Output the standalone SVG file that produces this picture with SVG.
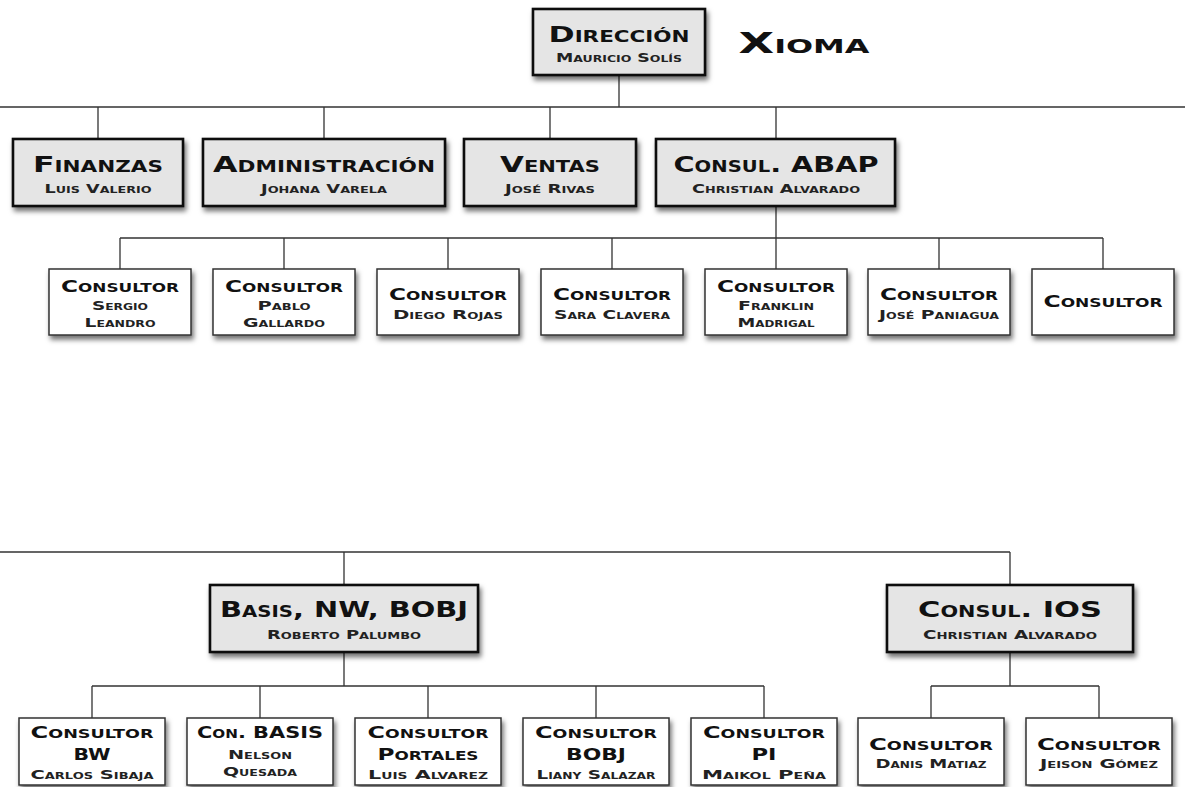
<svg xmlns="http://www.w3.org/2000/svg" width="1185" height="787" viewBox="0 0 1185 787">
<defs>
<filter id="sh" x="-10%" y="-20%" width="125%" height="150%">
<feDropShadow dx="2" dy="4" stdDeviation="2.5" flood-color="#000" flood-opacity="0.55"/>
</filter>
<style>
.g{fill:#e5e5e5;stroke:#111;stroke-width:2.6;filter:url(#sh)}
.w{fill:#fff;stroke:#333;stroke-width:1.5;filter:url(#sh)}
.ln{stroke:#333;stroke-width:1.3;fill:none}
text{font-family:"DejaVu Sans","Liberation Sans",sans-serif;font-weight:bold;font-variant:small-caps;text-anchor:middle;fill:#111}
.t{font-size:22px}
.s{font-size:12.5px;fill:#222}
.c{font-size:16.5px}
.n{font-size:12px;fill:#222}
.x{font-size:29px}
</style>
</defs>
<rect width="1185" height="787" fill="#fff"/>
<g id="connectors">
<path class="ln" d="M619 75V107M0 107H1185M98 107V139M324 107V139M550 107V139M776 107V139"/>
<path class="ln" d="M776 206V238M120 238H1103M120 238V269M284 238V269M448 238V269M612 238V269M776 238V269M939 238V269M1103 238V269"/>
<path class="ln" d="M0 552H1010M344 552V585M1010 552V585"/>
<path class="ln" d="M344 652V686M92 686H764M92 686V718M260 686V718M428 686V718M596 686V718M764 686V718"/>
<path class="ln" d="M1010 652V686M931 686H1099M931 686V718M1099 686V718"/>
</g>
<g id="title"><text class="x" x="804" y="53" textLength="131" lengthAdjust="spacingAndGlyphs">Xioma</text></g>
<g id="direccion">
<rect class="g" x="533" y="9" width="172" height="66"/>
<text class="t" x="619" y="42" textLength="141" lengthAdjust="spacingAndGlyphs">Dirección</text>
<text class="s" x="619" y="62" textLength="126" lengthAdjust="spacingAndGlyphs">Mauricio Solís</text>
</g>
<g id="finanzas">
<rect class="g" x="13" y="139" width="170" height="67"/>
<text class="t" x="98" y="172" textLength="130" lengthAdjust="spacingAndGlyphs">Finanzas</text>
<text class="s" x="98" y="193" textLength="107" lengthAdjust="spacingAndGlyphs">Luis Valerio</text>
</g>
<g id="administracion">
<rect class="g" x="203" y="139" width="242" height="67"/>
<text class="t" x="324" y="172" textLength="222" lengthAdjust="spacingAndGlyphs">Administración</text>
<text class="s" x="324" y="193" textLength="126" lengthAdjust="spacingAndGlyphs">Johana Varela</text>
</g>
<g id="ventas">
<rect class="g" x="464" y="139" width="172" height="67"/>
<text class="t" x="550" y="172" textLength="100" lengthAdjust="spacingAndGlyphs">Ventas</text>
<text class="s" x="550" y="193" textLength="90" lengthAdjust="spacingAndGlyphs">José Rivas</text>
</g>
<g id="consul-abap">
<rect class="g" x="656" y="139" width="239" height="67"/>
<text class="t" x="776" y="172" textLength="205" lengthAdjust="spacingAndGlyphs">Consul. ABAP</text>
<text class="s" x="776" y="193" textLength="168" lengthAdjust="spacingAndGlyphs">Christian Alvarado</text>
</g>
<g id="c-sergio">
<rect class="w" x="49" y="269" width="142" height="66"/>
<text class="c" x="120" y="292" textLength="118" lengthAdjust="spacingAndGlyphs">Consultor</text>
<text class="n" x="120" y="310" textLength="56" lengthAdjust="spacingAndGlyphs">Sergio</text>
<text class="n" x="120" y="327" textLength="71" lengthAdjust="spacingAndGlyphs">Leandro</text>
</g>
<g id="c-pablo">
<rect class="w" x="213" y="269" width="142" height="66"/>
<text class="c" x="284" y="292" textLength="118" lengthAdjust="spacingAndGlyphs">Consultor</text>
<text class="n" x="284" y="310" textLength="53" lengthAdjust="spacingAndGlyphs">Pablo</text>
<text class="n" x="284" y="327" textLength="82" lengthAdjust="spacingAndGlyphs">Gallardo</text>
</g>
<g id="c-diego">
<rect class="w" x="377" y="269" width="142" height="66"/>
<text class="c" x="448" y="300" textLength="118" lengthAdjust="spacingAndGlyphs">Consultor</text>
<text class="n" x="448" y="319" textLength="110" lengthAdjust="spacingAndGlyphs">Diego Rojas</text>
</g>
<g id="c-sara">
<rect class="w" x="541" y="269" width="142" height="66"/>
<text class="c" x="612" y="300" textLength="118" lengthAdjust="spacingAndGlyphs">Consultor</text>
<text class="n" x="612" y="319" textLength="116" lengthAdjust="spacingAndGlyphs">Sara Clavera</text>
</g>
<g id="c-franklin">
<rect class="w" x="705" y="269" width="142" height="66"/>
<text class="c" x="776" y="292" textLength="118" lengthAdjust="spacingAndGlyphs">Consultor</text>
<text class="n" x="776" y="310" textLength="76" lengthAdjust="spacingAndGlyphs">Franklin</text>
<text class="n" x="776" y="327" textLength="77" lengthAdjust="spacingAndGlyphs">Madrigal</text>
</g>
<g id="c-jose">
<rect class="w" x="868" y="269" width="142" height="66"/>
<text class="c" x="939" y="300" textLength="118" lengthAdjust="spacingAndGlyphs">Consultor</text>
<text class="n" x="939" y="319" textLength="120" lengthAdjust="spacingAndGlyphs">José Paniagua</text>
</g>
<g id="c-vacante">
<rect class="w" x="1032" y="269" width="142" height="66"/>
<text class="c" x="1103" y="307" textLength="119" lengthAdjust="spacingAndGlyphs">Consultor</text>
</g>
<g id="basis">
<rect class="g" x="210" y="585" width="268" height="67"/>
<text class="t" x="344" y="617" textLength="248" lengthAdjust="spacingAndGlyphs">Basis, NW, BOBJ</text>
<text class="s" x="344" y="639" textLength="154" lengthAdjust="spacingAndGlyphs">Roberto Palumbo</text>
</g>
<g id="consul-ios">
<rect class="g" x="887" y="585" width="246" height="67"/>
<text class="t" x="1010" y="617" textLength="184" lengthAdjust="spacingAndGlyphs">Consul. IOS</text>
<text class="s" x="1010" y="639" textLength="174" lengthAdjust="spacingAndGlyphs">Christian Alvarado</text>
</g>
<g id="c-bw">
<rect class="w" x="19" y="718" width="146" height="67"/>
<text class="c" x="92" y="738" textLength="123" lengthAdjust="spacingAndGlyphs">Consultor</text>
<text class="c" x="92" y="760" textLength="37" lengthAdjust="spacingAndGlyphs">BW</text>
<text class="n" x="92" y="779" textLength="123" lengthAdjust="spacingAndGlyphs">Carlos Sibaja</text>
</g>
<g id="c-basis">
<rect class="w" x="187" y="718" width="146" height="67"/>
<text class="c" x="260" y="738" textLength="126" lengthAdjust="spacingAndGlyphs">Con. BASIS</text>
<text class="n" x="260" y="759" textLength="64" lengthAdjust="spacingAndGlyphs">Nelson</text>
<text class="n" x="260" y="776" textLength="74" lengthAdjust="spacingAndGlyphs">Quesada</text>
</g>
<g id="c-portales">
<rect class="w" x="355" y="718" width="146" height="67"/>
<text class="c" x="428" y="738" textLength="121" lengthAdjust="spacingAndGlyphs">Consultor</text>
<text class="c" x="428" y="760" textLength="101" lengthAdjust="spacingAndGlyphs">Portales</text>
<text class="n" x="428" y="779" textLength="120" lengthAdjust="spacingAndGlyphs">Luis Alvarez</text>
</g>
<g id="c-bobj">
<rect class="w" x="523" y="718" width="146" height="67"/>
<text class="c" x="596" y="738" textLength="122" lengthAdjust="spacingAndGlyphs">Consultor</text>
<text class="c" x="596" y="760" textLength="60" lengthAdjust="spacingAndGlyphs">BOBJ</text>
<text class="n" x="596" y="779" textLength="119" lengthAdjust="spacingAndGlyphs">Liany Salazar</text>
</g>
<g id="c-pi">
<rect class="w" x="691" y="718" width="146" height="67"/>
<text class="c" x="764" y="738" textLength="122" lengthAdjust="spacingAndGlyphs">Consultor</text>
<text class="c" x="764" y="760" textLength="25" lengthAdjust="spacingAndGlyphs">PI</text>
<text class="n" x="764" y="779" textLength="124" lengthAdjust="spacingAndGlyphs">Maikol Peña</text>
</g>
<g id="c-danis">
<rect class="w" x="858" y="718" width="146" height="67"/>
<text class="c" x="931" y="750" textLength="124" lengthAdjust="spacingAndGlyphs">Consultor</text>
<text class="n" x="931" y="768" textLength="111" lengthAdjust="spacingAndGlyphs">Danis Matiaz</text>
</g>
<g id="c-jeison">
<rect class="w" x="1026" y="718" width="146" height="67"/>
<text class="c" x="1099" y="750" textLength="124" lengthAdjust="spacingAndGlyphs">Consultor</text>
<text class="n" x="1099" y="768" textLength="118" lengthAdjust="spacingAndGlyphs">Jeison Gómez</text>
</g>
</svg>
